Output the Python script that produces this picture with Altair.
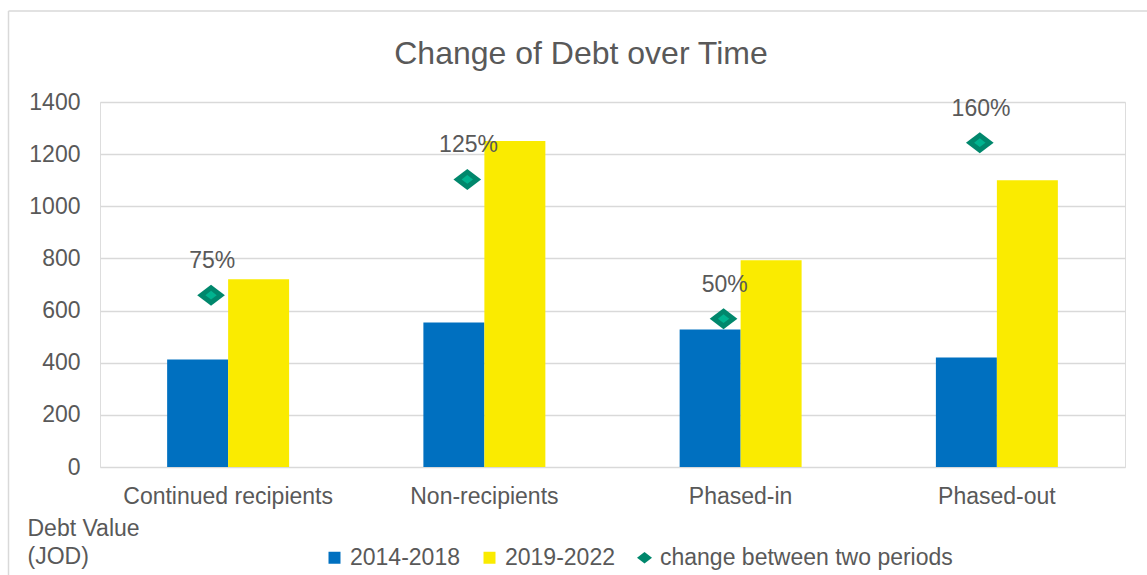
import altair as alt
import pandas as pd

categories = ["Continued recipients", "Non-recipients", "Phased-in", "Phased-out"]
debt_2014_2018 = [412, 554, 527, 420]
debt_2019_2022 = [720, 1250, 793, 1100]
change_marker_y = [659, 1103, 569, 1244]
change_labels = ["75%", "125%", "50%", "160%"]
series_names = ["2014-2018", "2019-2022", "change between two periods"]
y_ticks = [0, 200, 400, 600, 800, 1000, 1200, 1400]
chart_title = "Change of Debt over Time"

bars = pd.DataFrame(
    [{"cat": c, "series": series_names[0], "value": v} for c, v in zip(categories, debt_2014_2018)]
    + [{"cat": c, "series": series_names[1], "value": v} for c, v in zip(categories, debt_2019_2022)]
)
changes = pd.DataFrame({
    "cat": categories,
    "series": [series_names[2]] * len(categories),
    "value": change_marker_y,
    "label": change_labels,
})

FONT = "Liberation Sans"
TXT = "#595959"
GRID = "#D9D9D9"
BLUE = "#0070C0"
YELLOW = "#FAEB00"
GREEN = "#00876C"
GREEN_LIGHT = "#00B38F"
SQUARE = "M -1 -1 L 1 -1 L 1 1 L -1 1 Z"
DIAMOND_L = "M -1.25 0 L 0 -0.95 L 1.25 0 L 0 0.95 Z"
DIAMOND_S = "M -1 0 L 0 -0.77 L 1 0 L 0 0.77 Z"

x_enc = alt.X(
    "cat:N", sort=categories, title=None,
    scale=alt.Scale(paddingInner=0.524, paddingOuter=0.262),
    axis=alt.Axis(labelFontSize=23, labelColor=TXT, labelFont=FONT, labelAngle=0,
                  ticks=False, domain=False, labelPadding=18, labelLimit=0),
)
y_enc = alt.Y(
    "value:Q",
    scale=alt.Scale(domain=[0, 1400], nice=False),
    axis=alt.Axis(values=y_ticks, format="d", title=["Debt Value", "(JOD)"], titleAngle=0,
                  titleX=-73, titleY=433, titleAlign="left", titleBaseline="alphabetic",
                  titleFontSize=23, titleFontWeight="normal", titleColor=TXT, titleFont=FONT,
                  titleLineHeight=28,
                  labelFontSize=23, labelColor=TXT, labelFont=FONT, labelPadding=20,
                  ticks=False, domain=False, grid=True, gridColor=GRID, gridWidth=1.5),
)

color_scale = alt.Scale(domain=series_names, range=[BLUE, YELLOW, GREEN])
legend = alt.Legend(
    title=None, orient="none", legendX=223, legendY=444, direction="horizontal",
    labelFontSize=23, labelColor=TXT, labelFont=FONT, symbolSize=144, labelLimit=0,
    symbolStrokeWidth=0, labelOffset=4, columnPadding=18, padding=0,
)

bar_layer = alt.Chart(bars).mark_bar().encode(
    x=x_enc,
    y=y_enc,
    xOffset=alt.XOffset("series:N", sort=series_names[:2]),
    color=alt.Color("series:N", scale=color_scale, legend=legend),
)

point_layer = alt.Chart(changes).mark_point(filled=True, opacity=1, size=490).encode(
    x=alt.X("cat:N", sort=categories, bandPosition=0.36),
    y="value:Q",
    color=alt.Color("series:N", scale=color_scale, legend=legend),
    shape=alt.Shape("series:N", scale=alt.Scale(domain=series_names,
                                                 range=[SQUARE, SQUARE, DIAMOND_L]),
                    legend=legend),
)

inner_layer = alt.Chart(changes).mark_point(filled=True, opacity=1, size=130).encode(
    x=alt.X("cat:N", sort=categories, bandPosition=0.36),
    y="value:Q",
    color=alt.value(GREEN_LIGHT),
    shape=alt.value(DIAMOND_S),
)

text_layer = alt.Chart(changes).mark_text(
    dy=-34, fontSize=23, font=FONT, color=TXT, baseline="middle"
).encode(
    x=alt.X("cat:N", sort=categories, bandPosition=0.37),
    y="value:Q",
    text="label:N",
)

title_layer = alt.Chart(alt.Data(values=[{"t": chart_title}])).mark_text(
    fontSize=32, font=FONT, color=TXT, baseline="alphabetic", align="center"
).encode(x=alt.value(481), y=alt.value(-38), text="t:N")

border_left = alt.Chart(alt.Data(values=[{}])).mark_rule(color=GRID, strokeWidth=1.5).encode(
    x=alt.value(-91.5), y=alt.value(-91), y2=alt.value(473)
)
border_top = alt.Chart(alt.Data(values=[{}])).mark_rule(color=GRID, strokeWidth=1.5).encode(
    x=alt.value(-91.5), x2=alt.value(1047), y=alt.value(-91)
)

chart = alt.layer(
    border_left, border_top, title_layer, bar_layer, point_layer, inner_layer, text_layer
).properties(
    width=1025, height=365,
    autosize=alt.AutoSizeParams(type="none"),
    padding={"left": 100, "top": 102, "right": 22, "bottom": 108},
).configure_view(stroke=None).configure(background="white")

chart.save("out.html", embed_options={"renderer": "svg", "actions": False})
